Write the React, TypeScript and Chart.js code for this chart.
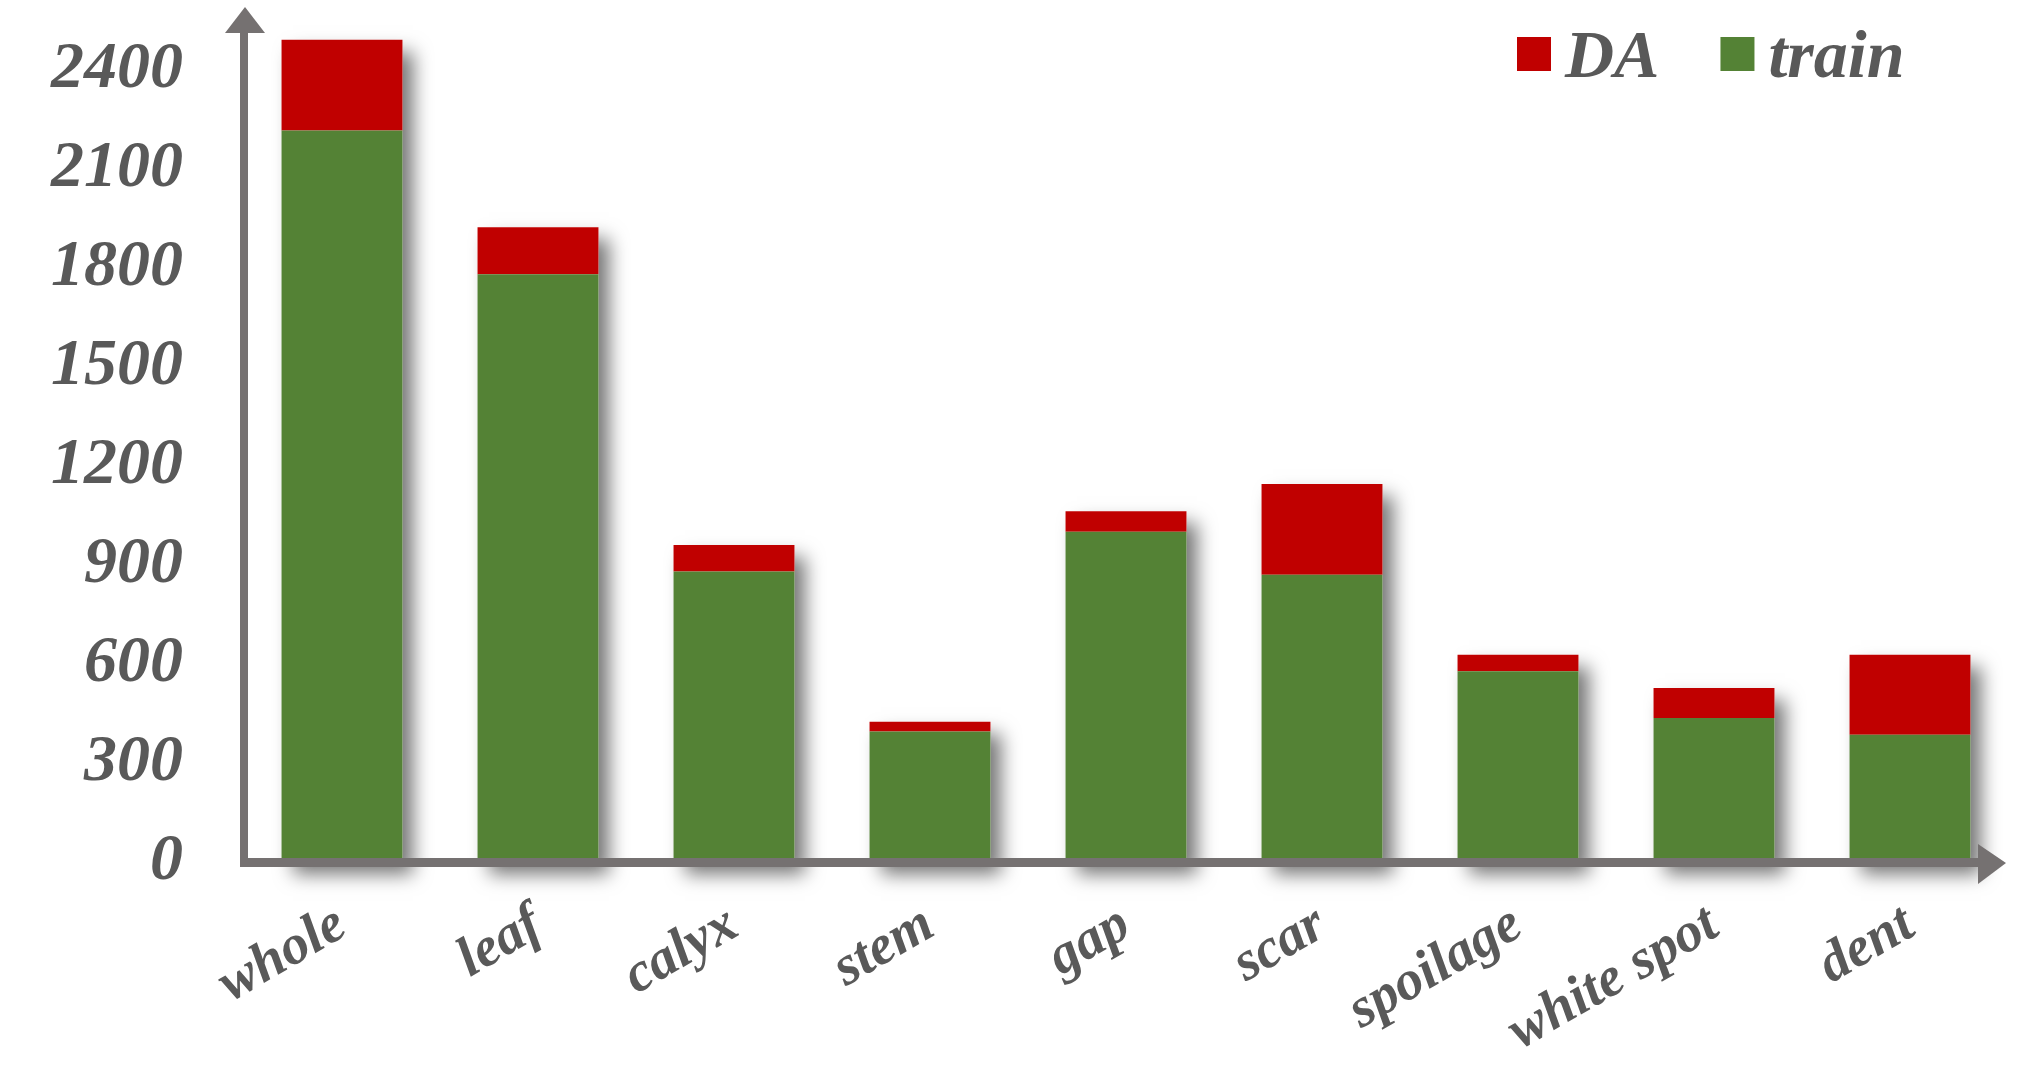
import React, { useEffect, useRef } from 'react';
import { Chart, registerables } from 'chart.js';

Chart.register(...registerables);

const categories = ['whole', 'leaf', 'calyx', 'stem', 'gap', 'scar', 'spoilage', 'white spot', 'dent'];
const trainValues = [2215, 1780, 880, 395, 1000, 870, 578, 436, 385];
const daValues = [275, 142, 80, 30, 62, 275, 50, 91, 243];
const yMax = 2550;
const yStep = 300;

const FONT = '"Liberation Serif", "Times New Roman", serif';
const TEXT = '#595959';
const AXIS = '#757171';
const GREEN = '#548235';
const RED = '#C00000';

const decorPlugin = {
  id: 'decor',
  beforeDatasetsDraw(chart: any) {
    const ctx = chart.ctx;
    const metaBottom = chart.getDatasetMeta(0);
    const metaTop = chart.getDatasetMeta(1);
    ctx.save();
    ctx.shadowColor = 'rgba(0,0,0,0.55)';
    ctx.shadowBlur = 18;
    ctx.shadowOffsetX = 11;
    ctx.shadowOffsetY = 12;
    ctx.fillStyle = '#ffffff';
    metaTop.data.forEach((el: any, i: number) => {
      const b = metaBottom.data[i];
      const p = el.getProps(['x', 'y', 'width'], true);
      const base = b.getProps(['base'], true).base;
      ctx.fillRect(p.x - p.width / 2, p.y, p.width, base - p.y);
    });
    ctx.restore();
  },
  afterDraw(chart: any) {
    const ctx = chart.ctx;
    const area = chart.chartArea;
    const zeroY = chart.scales.y.getPixelForValue(0);
    const ax = area.left;
    ctx.save();
    ctx.fillStyle = AXIS;
    // y axis line + arrow
    const arrowTip = 7;
    ctx.fillRect(ax - 4, arrowTip + 22, 8, zeroY + 5 - (arrowTip + 22));
    ctx.beginPath();
    ctx.moveTo(ax + 1, arrowTip);
    ctx.lineTo(ax - 19, arrowTip + 26);
    ctx.lineTo(ax + 21, arrowTip + 26);
    ctx.closePath();
    ctx.fill();
    // x axis line + arrow
    const tipX = area.right - 2;
    ctx.fillRect(ax - 4, zeroY - 4, tipX - 28 - (ax - 4), 9);
    ctx.beginPath();
    ctx.moveTo(tipX, zeroY + 1);
    ctx.lineTo(tipX - 28, zeroY - 18);
    ctx.lineTo(tipX - 28, zeroY + 22);
    ctx.closePath();
    ctx.fill();
    // legend (DA first, then train)
    const items = [...chart.data.datasets].reverse();
    ctx.font = 'italic bold 68px ' + FONT;
    ctx.textBaseline = 'alphabetic';
    ctx.textAlign = 'left';
    let x = area.right - 491;
    const boxTop = 37;
    items.forEach((ds: any) => {
      ctx.fillStyle = ds.backgroundColor;
      ctx.fillRect(x, boxTop, 34, 34);
      ctx.fillStyle = TEXT;
      ctx.fillText(ds.label, x + 48, 77);
      x += 48 + ctx.measureText(ds.label).width + 61;
    });
    ctx.restore();
  },
};

export default function App() {
  const ref = useRef<HTMLCanvasElement>(null);
  useEffect(() => {
    if (!ref.current) return;
    const chart = new Chart(ref.current, {
      type: 'bar',
      data: {
        labels: categories,
        datasets: [
          { label: 'train', data: trainValues, backgroundColor: GREEN, borderWidth: 0 },
          { label: 'DA', data: daValues, backgroundColor: RED, borderWidth: 0 },
        ],
      },
      options: {
        animation: false,
        responsive: true,
        maintainAspectRatio: false,
        devicePixelRatio: 1,
        layout: { padding: { top: 20, right: 36, left: 0, bottom: 0 } },
        datasets: { bar: { categoryPercentage: 1, barPercentage: 0.617 } },
        plugins: { legend: { display: false }, title: { display: false }, tooltip: { enabled: false } },
        scales: {
          x: {
            stacked: true,
            grid: { display: false, drawTicks: false },
            border: { display: false },
            afterFit: (s: any) => { s.height = 228; },
            ticks: {
              autoSkip: false,
              minRotation: 30,
              maxRotation: 30,
              padding: 30,
              color: TEXT,
              font: { family: FONT, size: 56, style: 'italic', weight: 'bold' },
            },
          },
          y: {
            stacked: true,
            min: 0,
            max: yMax,
            grid: { display: false, drawTicks: true, tickLength: 58 },
            border: { display: false },
            afterFit: (s: any) => { s.width = 244; },
            ticks: {
              stepSize: yStep,
              includeBounds: false,
              padding: 3,
              color: TEXT,
              font: { family: FONT, size: 66, style: 'italic', weight: 'bold', lineHeight: 0.5 },
              callback: (v: any) => String(v),
            },
          },
        },
      },
      plugins: [decorPlugin],
    });
    return () => chart.destroy();
  }, []);
  return (
    <div style={{ position: 'absolute', left: 0, top: 0, width: 2044, height: 1090, background: '#fff' }}>
      <canvas ref={ref} />
    </div>
  );
}
